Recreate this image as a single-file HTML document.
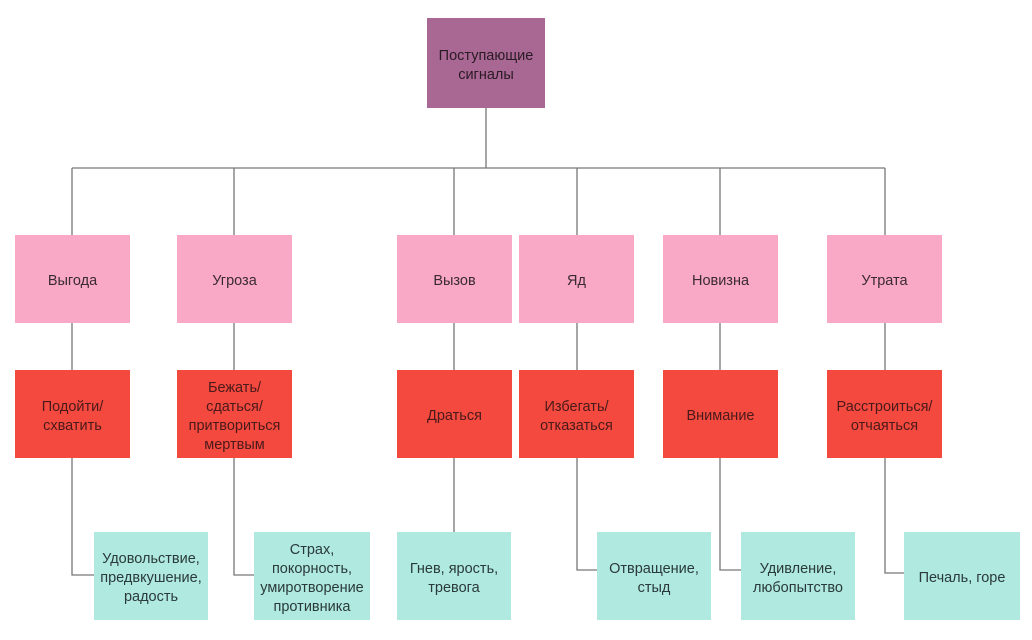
<!DOCTYPE html>
<html><head><meta charset="utf-8"><style>
body{margin:0;width:1032px;height:640px;background:#fff;position:relative;overflow:hidden;font-family:"Liberation Sans","DejaVu Sans",sans-serif;}
.b{position:absolute;display:flex;align-items:center;justify-content:center;text-align:center;font-size:14.5px;line-height:19px;color:#3a2a30;box-sizing:border-box;padding-top:5px;}
.p{background:#f9a9c5;height:88px;width:115px;top:235px}
.r{background:#f4493f;height:88px;width:115px;top:370px;color:#4a1a1a}
.c{background:#afe9df;height:88px;width:114px;top:532px;color:#2a3a3a}
svg{position:absolute;left:0;top:0}
</style></head><body>
<svg width="1032" height="640"><g stroke="#777" stroke-width="1.3" fill="none">
<path d="M486 108V168M72 168H885M72 168V235M234 168V235M454 168V235M577 168V235M720 168V235M885 168V235"/>
<path d="M72 323V370M234 323V370M454 323V370M577 323V370M720 323V370M885 323V370"/>
<path d="M72 458V575H95M234 458V575H254M454 458V532M577 458V570H597M720 458V570H741M885 458V573H904"/>
</g></svg>
<div class="b" style="left:427px;top:18px;width:118px;height:90px;background:#a86893;color:#2a1a24">Поступающие<br>сигналы</div>
<div class="b p" style="left:15px">Выгода</div>
<div class="b p" style="left:177px">Угроза</div>
<div class="b p" style="left:397px">Вызов</div>
<div class="b p" style="left:519px">Яд</div>
<div class="b p" style="left:663px">Новизна</div>
<div class="b p" style="left:827px">Утрата</div>
<div class="b r" style="left:15px">Подойти/<br>схватить</div>
<div class="b r" style="left:177px">Бежать/<br>сдаться/<br>притвориться<br>мертвым</div>
<div class="b r" style="left:397px">Драться</div>
<div class="b r" style="left:519px">Избегать/<br>отказаться</div>
<div class="b r" style="left:663px">Внимание</div>
<div class="b r" style="left:827px">Расстроиться/<br>отчаяться</div>
<div class="b c" style="left:94px">Удовольствие,<br>предвкушение,<br>радость</div>
<div class="b c" style="left:254px;width:116px">Страх,<br>покорность,<br>умиротворение<br>противника</div>
<div class="b c" style="left:397px">Гнев, ярость,<br>тревога</div>
<div class="b c" style="left:597px">Отвращение,<br>стыд</div>
<div class="b c" style="left:741px">Удивление,<br>любопытство</div>
<div class="b c" style="left:904px;width:116px">Печаль, горе</div>
</body></html>
